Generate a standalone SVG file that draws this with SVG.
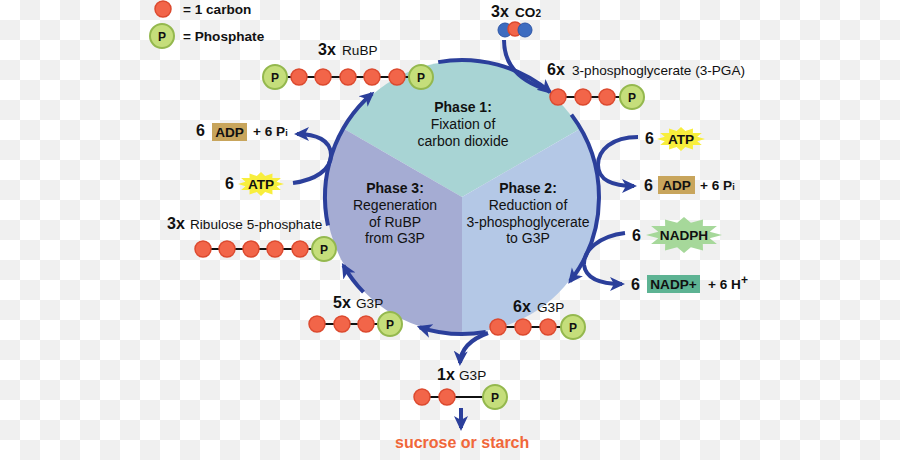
<svg xmlns="http://www.w3.org/2000/svg" width="900" height="460" viewBox="0 0 900 460">
<defs>
<pattern id="chk" width="40" height="40" patternUnits="userSpaceOnUse"><rect width="40" height="40" fill="#ffffff"/><rect x="20" y="0" width="20" height="20" fill="#f0f0f0"/><rect x="0" y="20" width="20" height="20" fill="#f0f0f0"/></pattern>
<marker id="ah" markerUnits="userSpaceOnUse" markerWidth="16" markerHeight="16" viewBox="0 0 16 16" refX="12" refY="8" orient="auto"><path d="M0,1 L15,8 L0,15 L4,8 z" fill="#2b3f9b"/></marker>
<polygon id="star" points="1,0 0.676,0.181 0.866,0.5 0.495,0.495 0.5,0.866 0.181,0.676 0,1 -0.181,0.676 -0.5,0.866 -0.495,0.495 -0.866,0.5 -0.676,0.181 -1,0 -0.676,-0.181 -0.866,-0.5 -0.495,-0.495 -0.5,-0.866 -0.181,-0.676 0,-1 0.181,-0.676 0.5,-0.866 0.495,-0.495 0.866,-0.5 0.676,-0.181"/>
</defs>
<style>
.c{fill:#f26549;stroke:#dc4a2f;stroke-width:1.5}
.p{fill:#c5de7b;stroke:#94b84e;stroke-width:2}
.pt{font-family:'Liberation Sans',Arial,sans-serif;font-weight:bold;font-size:12px;text-anchor:middle;fill:#111}
.bond{stroke:#111;stroke-width:2}
.arr{fill:none;stroke:#2b3f9b;stroke-width:4}
.t{font-family:'Liberation Sans',Arial,sans-serif;font-size:13.6px;fill:#111}
.ph{font-family:'Liberation Sans',Arial,sans-serif;font-size:14px;fill:#111;text-anchor:middle}
.b{font-weight:bold}
.n{font-family:'Liberation Sans',Arial,sans-serif;font-weight:bold;font-size:16px;fill:#111}
.mid{text-anchor:middle}
.co2b{fill:#3d6cc0;stroke:#2c55a6;stroke-width:1}
</style>
<rect width="900" height="460" fill="url(#chk)"/>

<g id="cycle">
<path d="M462,197 L344.2,129 A136,136 0 0 1 579.8,129 Z" fill="#a8d4d4"/>
<path d="M462,197 L579.8,129 A136,136 0 0 1 462,333 Z" fill="#b4c8e6"/>
<path d="M462,197 L462,333 A136,136 0 0 1 344.2,129 Z" fill="#a5acd3"/>
<text class="ph b" x="463" y="112">Phase 1:</text>
<text class="ph" x="463" y="129">Fixation of</text>
<text class="ph" x="463" y="146">carbon dioxide</text>
<text class="ph b" x="395" y="193">Phase 3:</text>
<text class="ph" x="395" y="210">Regeneration</text>
<text class="ph" x="395" y="227">of RuBP</text>
<text class="ph" x="395" y="243">from G3P</text>
<text class="ph b" x="528" y="193">Phase 2:</text>
<text class="ph" x="528" y="210">Reduction of</text>
<text class="ph" x="528" y="227">3-phosphoglycerate</text>
<text class="ph" x="528" y="243">to G3P</text>
</g>

<g id="connectors">
<path class="arr" d="M438.2,62.1 A137,137 0 0 1 550.1,92.1" marker-end="url(#ah)"/>
<path class="arr" d="M504,40 C504,66 520,80 542,88"/>
<path class="arr" d="M571.4,114.6 A137,137 0 0 1 570,281.3" marker-end="url(#ah)"/>
<path class="arr" d="M485.8,331.9 A137,137 0 0 1 419.7,327.3" marker-end="url(#ah)"/>
<path class="arr" d="M363.5,292.2 A137,137 0 0 1 343.4,265.5" marker-end="url(#ah)"/>
<path class="arr" d="M328,225.5 A137,137 0 0 1 372.1,93.6" marker-end="url(#ah)"/>
<path class="arr" d="M638,137 C612,137 598,150 598,165 C598,180 613,186 634,186" marker-end="url(#ah)"/>
<path class="arr" d="M625,233 C600,236 583,250 584,265 C586,280 603,284 622,284" marker-end="url(#ah)"/>
<path class="arr" d="M293,183 C315,180 331,170 331,155 C331,140 316,134 297,134" marker-end="url(#ah)"/>
<path class="arr" d="M488,333 C474,338 461,346 460,363" marker-end="url(#ah)"/>
<path class="arr" d="M461,408 L461,428" marker-end="url(#ah)"/>
</g>

<g id="legend">
<circle class="c" cx="163" cy="9" r="8"/>
<text class="t b" x="183" y="14" font-size="14">= 1 carbon</text>
<circle class="p" cx="162" cy="36" r="12"/>
<text class="pt" x="162" y="40.5">P</text>
<text class="t b" x="183" y="41" font-size="14">= Phosphate</text>
</g>

<g id="co2">
<text class="n" x="491" y="17">3x</text>
<text class="t b" x="515" y="17" font-size="12">CO<tspan font-size="10">2</tspan></text>
<circle class="co2b" cx="505" cy="30" r="7"/>
<circle class="c" cx="515" cy="29" r="7"/>
<circle class="co2b" cx="525" cy="30" r="7"/>
</g>

<g id="pga">
<text class="n" x="547" y="75">6x</text>
<text class="t" x="572" y="75">3-phosphoglycerate (3-PGA)</text>
<line class="bond" x1="558" y1="97" x2="632" y2="97"/>
<circle class="c" cx="558" cy="97" r="8"/>
<circle class="c" cx="583" cy="97" r="8"/>
<circle class="c" cx="607" cy="97" r="8"/>
<circle class="p" cx="632" cy="97" r="12"/>
<text class="pt" x="632" y="101.5">P</text>
</g>

<g id="rubp">
<text class="n" x="318" y="55">3x</text>
<text class="t" x="342" y="55">RuBP</text>
<line class="bond" x1="275" y1="77" x2="421" y2="77"/>
<circle class="p" cx="275" cy="77" r="12"/>
<text class="pt" x="275" y="81.5">P</text>
<circle class="c" cx="299" cy="77" r="8"/>
<circle class="c" cx="323" cy="77" r="8"/>
<circle class="c" cx="348" cy="77" r="8"/>
<circle class="c" cx="372" cy="77" r="8"/>
<circle class="c" cx="397" cy="77" r="8"/>
<circle class="p" cx="421" cy="77" r="12"/>
<text class="pt" x="421" y="81.5">P</text>
</g>

<g id="adp-left">
<text class="n" x="196" y="136">6</text>
<rect x="212" y="123" width="35" height="18" fill="#c8a55c"/>
<text class="t b mid" x="229.5" y="137">ADP</text>
<text class="t b" x="253" y="136">+ 6 P<tspan font-size="9">i</tspan></text>
</g>

<g id="atp-left">
<text class="n" x="225" y="189">6</text>
<use href="#star" transform="translate(261,184) scale(23,12)" fill="#f8ee3c"/>
<text class="t b mid" x="261" y="189">ATP</text>
</g>

<g id="atp-right">
<text class="n" x="645" y="144">6</text>
<use href="#star" transform="translate(681,139) scale(24,12)" fill="#f8ee3c"/>
<text class="t b mid" x="681" y="144">ATP</text>
</g>

<g id="adp-right">
<text class="n" x="644" y="191">6</text>
<rect x="658" y="176" width="37" height="18" fill="#c8a55c"/>
<text class="t b mid" x="676.5" y="190">ADP</text>
<text class="t b" x="700" y="190">+ 6 P<tspan font-size="9">i</tspan></text>
</g>

<g id="nadph">
<text class="n" x="632" y="241">6</text>
<use href="#star" transform="translate(684,235) scale(38,18)" fill="#a6d89a"/>
<text class="t b mid" x="684" y="240" font-size="14">NADPH</text>
</g>

<g id="nadp">
<text class="n" x="631" y="290">6</text>
<rect x="647" y="275" width="53" height="18" fill="#5db393"/>
<text class="t b mid" x="673.5" y="289" font-size="14">NADP+</text>
<text class="t b" x="708" y="289">+ 6 H<tspan font-size="12" dy="-5">+</tspan></text>
</g>

<g id="ribulose">
<text class="n" x="167" y="229">3x</text>
<text class="t" x="190" y="229">Ribulose 5-phosphate</text>
<line class="bond" x1="203" y1="249" x2="324" y2="249"/>
<circle class="c" cx="203" cy="249" r="8"/>
<circle class="c" cx="227" cy="249" r="8"/>
<circle class="c" cx="251" cy="249" r="8"/>
<circle class="c" cx="275" cy="249" r="8"/>
<circle class="c" cx="300" cy="249" r="8"/>
<circle class="p" cx="324" cy="249" r="12"/>
<text class="pt" x="324" y="253.5">P</text>
</g>

<g id="g3p-5">
<text class="n" x="333" y="308">5x</text>
<text class="t" x="356" y="308">G3P</text>
<line class="bond" x1="317" y1="324" x2="390" y2="324"/>
<circle class="c" cx="317" cy="324" r="8"/>
<circle class="c" cx="342" cy="324" r="8"/>
<circle class="c" cx="366" cy="324" r="8"/>
<circle class="p" cx="390" cy="324" r="12"/>
<text class="pt" x="390" y="328.5">P</text>
</g>

<g id="g3p-6">
<text class="n" x="513" y="312">6x</text>
<text class="t" x="537" y="312">G3P</text>
<line class="bond" x1="498" y1="327" x2="573" y2="327"/>
<circle class="c" cx="498" cy="327" r="8"/>
<circle class="c" cx="523" cy="327" r="8"/>
<circle class="c" cx="548" cy="327" r="8"/>
<circle class="p" cx="573" cy="327" r="12"/>
<text class="pt" x="573" y="331.5">P</text>
</g>

<g id="g3p-1">
<text class="n" x="437" y="380">1x</text>
<text class="t" x="459" y="380">G3P</text>
<line class="bond" x1="422" y1="397" x2="495" y2="397"/>
<circle class="c" cx="422" cy="397" r="8"/>
<circle class="c" cx="447" cy="397" r="8"/>
<circle class="p" cx="495" cy="397" r="12"/>
<text class="pt" x="495" y="401.5">P</text>
</g>

<g id="product">
<text class="n" x="395" y="448" style="fill:#f0673a">sucrose or starch</text>
</g>
</svg>
